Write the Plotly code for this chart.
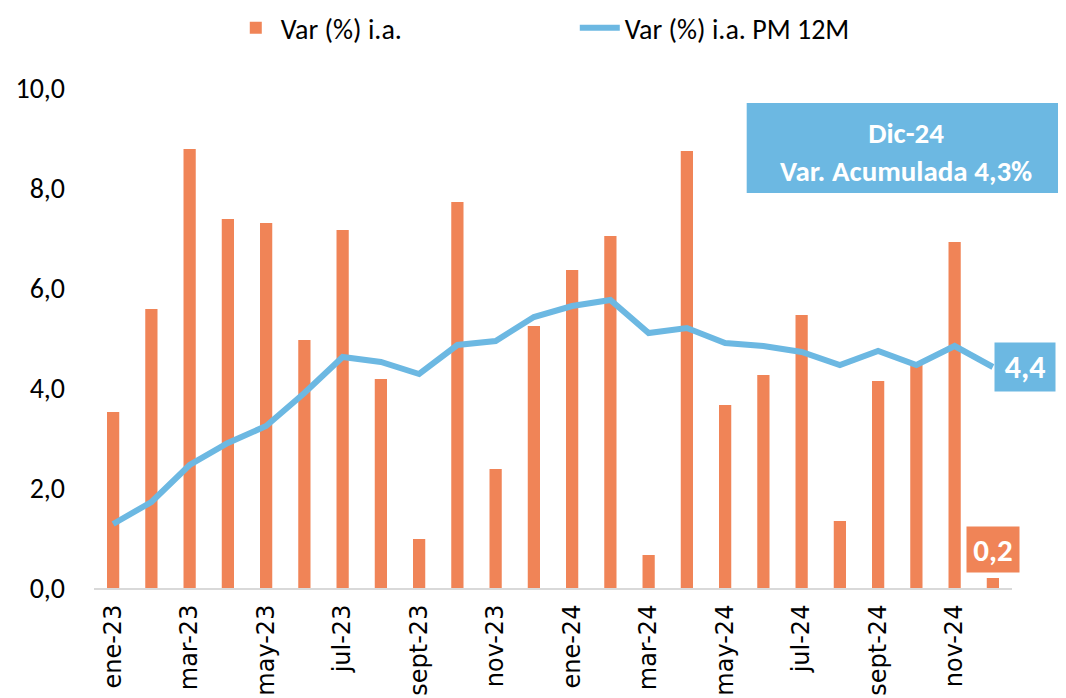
import plotly.graph_objects as go

months = ["ene-23", "feb-23", "mar-23", "abr-23", "may-23", "jun-23", "jul-23", "ago-23",
          "sept-23", "oct-23", "nov-23", "dic-23", "ene-24", "feb-24", "mar-24", "abr-24",
          "may-24", "jun-24", "jul-24", "ago-24", "sept-24", "oct-24", "nov-24", "dic-24"]
var_ia = [3.52, 5.58, 8.78, 7.38, 7.30, 4.96, 7.16, 4.18, 0.98, 7.72, 2.38, 5.24,
          6.36, 7.04, 0.66, 8.74, 3.66, 4.26, 5.46, 1.34, 4.14, 4.52, 6.92, 0.2]
var_pm12 = [1.28, 1.72, 2.46, 2.90, 3.24, 3.90, 4.62, 4.52, 4.28, 4.86, 4.94, 5.42,
            5.64, 5.76, 5.10, 5.20, 4.90, 4.84, 4.72, 4.46, 4.74, 4.46, 4.84, 4.42]
tick_labels = months[::2]
box_text = "<b>Dic-24</b><br><b>Var. Acumulada 4,3%</b>"

ORANGE = "#F08457"
BLUE = "#6CB8E2"
calib = "Carlito, Calibri, Liberation Sans Narrow, sans-serif"

fig = go.Figure()
fig.add_trace(go.Bar(x=months, y=var_ia, name="Var (%) i.a.", marker_color=ORANGE,
                     marker_line_width=0))
fig.add_trace(go.Scatter(x=months, y=var_pm12, name="Var (%) i.a. PM 12M", mode="lines",
                         line=dict(color=BLUE, width=6)))

# data labels for last point
fig.add_annotation(x=months[-1], y=var_pm12[-1], text="<b>%s</b>" % f"{var_pm12[-1]:.1f}".replace(".", ","),
                   showarrow=False, xanchor="left", xshift=1, yanchor="middle", bgcolor=BLUE,
                   width=58, height=46, align="center", valign="middle",
                   font=dict(color="white", size=32, family=calib), borderpad=1)
fig.add_annotation(x=months[-1], y=var_ia[-1], text="<b>%s</b>" % f"{var_ia[-1]:.1f}".replace(".", ","),
                   showarrow=False, xanchor="center", yanchor="bottom", yshift=5, bgcolor=ORANGE,
                   width=50, height=43, align="center", valign="middle",
                   font=dict(color="white", size=31, family=calib), borderpad=1)

# summary box
fig.add_shape(type="rect", xref="paper", yref="y", x0=0.711, x1=1.06, y0=7.9, y1=9.7,
              fillcolor=BLUE, line_width=0, layer="above")
fig.add_annotation(xref="paper", yref="y", x=0.885, y=8.72, xanchor="center", yanchor="middle",
                   text=box_text, showarrow=False,
                   font=dict(color="white", size=29, family=calib), align="center")

fig.update_layout(
    width=1066, height=698,
    margin=dict(l=86, r=62, t=80, b=118, autoexpand=False),
    plot_bgcolor="white", paper_bgcolor="white",
    separators=",.",
    bargap=0.68,
    showlegend=True,
    legend=dict(orientation="h", x=0.149, xanchor="left", y=1.17, yref="paper",
                yanchor="top", font=dict(size=28, family=calib, color="black"),
                entrywidth=289, entrywidthmode="pixels", itemwidth=40),
    xaxis=dict(type="category", range=[-0.5, 23.5], tickmode="array", tickvals=tick_labels,
               ticktext=tick_labels, tickangle=-90,
               tickfont=dict(size=24, family="DejaVu Sans", color="black"),
               showline=True, linecolor="#D9D9D9", linewidth=2, ticks="", showgrid=False,
               ticklabelstandoff=5),
    yaxis=dict(range=[0, 10], dtick=2, tickformat=".1f", showgrid=False, zeroline=False,
               showline=False, tickfont=dict(size=28, family=calib, color="black"),
               ticks="", ticklabelstandoff=28),
)

fig.write_html("out.html")
